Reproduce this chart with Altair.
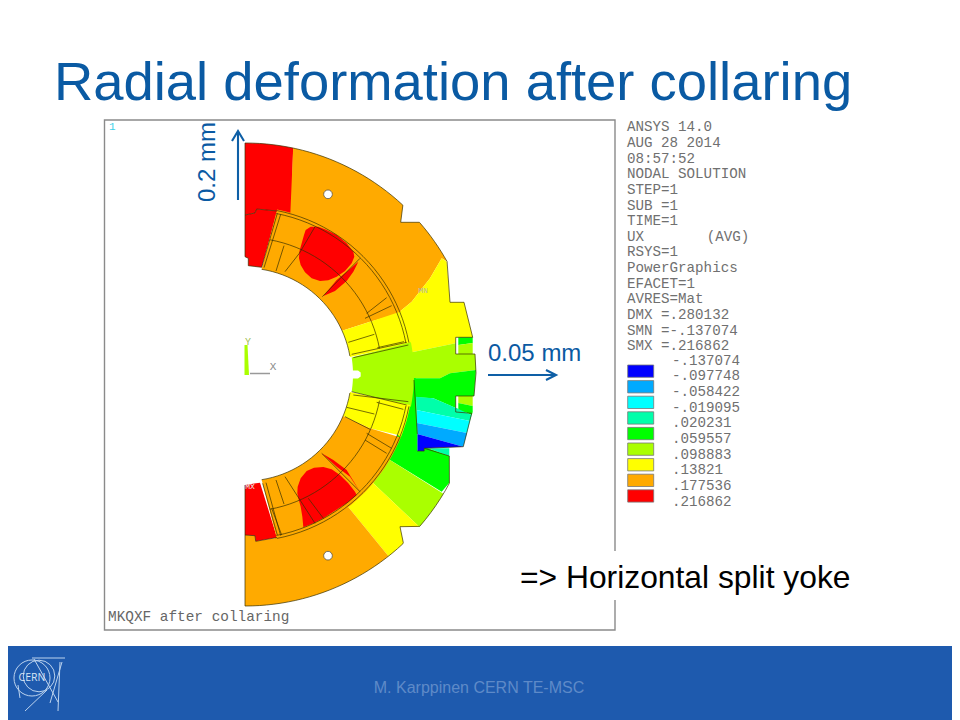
import math
import altair as alt

# ---------- geometry helpers (reference pixel coordinates) ----------
CX, CY = 245, 374.5

def arc(r, a1, a2, n=24):
    return [[CX + r * math.cos(math.radians(a1 + (a2 - a1) * i / n)),
             CY - r * math.sin(math.radians(a1 + (a2 - a1) * i / n))] for i in range(n + 1)]

def zt(*pts):  # crop of the upper half
    return [[190 + x / 3, 115 + y / 3] for x, y in pts]

def zb(*pts):  # crop of the lower half
    return [[190 + x / 3, 370 + y / 3] for x, y in pts]

BLUE, LBLUE, CYAN, AQUA, GREEN, LIME, YELLOW, ORANGE, RED = (
    "#0000FF", "#00AAFF", "#00FFFF", "#00FFAA", "#00FF00", "#AAFF00", "#FFFF00", "#FFAA00", "#FF0000")

# ---------- contour regions ----------
regions = [
    # yoke, upper
    (RED, arc(231.5, 90, 78, 6) + [[291.5, 214], [276, 211], [256.7, 209], [255, 213], [245, 215]]),
    (ORANGE, arc(231.5, 78, 47) + [[400.7, 222.3], [419.3, 222.3]] + arc(231.5, 41, 29.2, 8)
     + [[441.7, 258.3], [430, 278.3], [411.7, 301.7], [398, 313]] + arc(164, 22, 74)),
    (YELLOW, [[446.7, 261.7], [450, 302.3], [464, 302.3], [472.7, 337.3], [455.7, 337.3], [455.7, 343.3], [411.7, 352.3]]
     + arc(164, 7.6, 22, 10) + [[398, 313], [411.7, 301.7], [430, 278.3], [441.7, 258.3]]),
    (LIME, [[411.7, 352.3], [455.7, 343.3], [455.7, 354], [475, 354], [476, 370], [450, 373.3], [440, 378.3]]
     + arc(164, -1.3, 7.6, 6)),
    (GREEN, [[405, 378.3], [440, 378.3], [450, 373.3], [476, 370], [474, 396], [455.7, 396], [455.7, 408],
             [433.3, 398.3], [405, 396.7]]),
    # key pieces in the yoke notches
    (GREEN, [[458.3, 337.3], [472.7, 337.3], [472.7, 343], [458.3, 345]]),
    (LIME, [[458.3, 345], [472.7, 343], [472.7, 354], [458.3, 354]]),
    (LIME, [[458.3, 396], [472.7, 396], [472.7, 406], [458.3, 403]]),
    (GREEN, [[458.3, 403], [472.7, 406], [472.7, 412], [458.3, 412]]),
    # yoke pad bands
    (GREEN, [[455.7, 412], [472.7, 412], [471.7, 415], [455.7, 408]]),
    (AQUA, [[416, 396.7], [433.3, 398.3], [456.7, 408.3], [471.7, 415], [470, 421], [416.5, 410]]),
    (CYAN, [[416.5, 410], [470, 421], [467, 433], [417, 423]]),
    (LBLUE, [[417, 423], [467, 433], [463.3, 446.7], [417.3, 434]]),
    (BLUE, [[417.3, 434], [463.3, 446.7], [424.3, 448.3], [424.3, 451], [417.3, 451]]),
    (AQUA, [[428, 448.3], [449.3, 448.3], [449.3, 456]]),
    # yoke, lower
    (GREEN, arc(164, -1.3, -30.5, 14) + [[390, 460], [441.7, 491.7], [449.3, 482.7], [449.3, 456], [428, 448.3], [424.3, 448.3],
             [424.3, 451], [417.3, 451], [417.3, 434], [416, 396.7], [415.7, 378]]),
    (LIME, arc(164, -30.5, -40.4, 5) + [[373.3, 483.3], [419.3, 526.7]] + arc(231.5, -41, -31, 5) + [[390, 460]]),
    (YELLOW, arc(164, -40.4, -52, 6) + [[348, 506.7]] + arc(231.5, -51.7, -47, 3)
     + [[403.3, 542.7], [400, 526.7], [419.3, 526.7], [373.3, 483.3]]),
    (ORANGE, arc(231.5, -51.7, -90) + [[245, 535], [255, 535.7], [255.7, 541.3], [275, 538.3]] + arc(164, -79.5, -52, 16) + [[348, 506.7]]),
    # pads at the collar ends
    (RED, [[245, 215], [255, 213], [256.7, 209], [277.3, 211], [261.7, 267.3], [248.3, 265.7], [248.3, 258.3], [245, 256.7]]),
    (RED, [[245, 485], [260, 482.7], [277, 537.5], [255.7, 541.3], [255, 535.7], [245, 535]]),
    # collar
    (ORANGE, arc(106.5, 81, 24.3) + [[370, 321.7], [398, 314]] + arc(168, 22, 79)),
    (YELLOW, arc(106.5, 24.3, 9.5, 8) + arc(168, 10.5, 22, 8) + [[370, 321.7]]),
    (LIME, arc(108, 9, -9, 12) + arc(169, -11, 11, 12)),
    (YELLOW, arc(106.5, -9.5, -23, 8) + [[370, 428.3], [398, 435]] + arc(168, -22, -10.5, 8)),
    (ORANGE, arc(106.5, -23, -81) + arc(168, -79, -22) + [[370, 428.3]]),
    # red hot spots
    (RED, zt((347, 345), (362, 335), (385, 335), (410, 345), (440, 360), (470, 385), (490, 410), (493, 425), (485, 445),
             (465, 468), (440, 485), (415, 496), (390, 498), (365, 490), (345, 472), (332, 450), (327, 430), (328, 410),
             (335, 385), (342, 360))),
    (RED, zt((400, 543), (435, 528), (470, 498), (490, 470), (505, 440), (470, 470), (440, 495))),
    (RED, zb((322, 370), (323, 350), (332, 325), (350, 303), (372, 293), (400, 291), (425, 298), (450, 315), (475, 340),
             (495, 365), (500, 375), (470, 400), (430, 425), (400, 445), (370, 460), (340, 472), (337, 440), (332, 410),
             (325, 385))),
    (RED, zb((395, 250), (430, 270), (470, 300), (510, 365), (480, 320), (440, 290))),
    # bore key notch
    ("#FFFFFF", [[351, 370.5], [358, 370.5], [360.7, 372.5], [360.7, 376.5], [358, 378.5], [351, 378.5]]),
    # triad
    (LIME, [[244.5, 345], [247.5, 345], [249, 375], [244.5, 375]]),
]

# ---------- line work ----------
outline = (arc(231.5, 90, 47) + [[400.7, 222.3], [419.3, 222.3]] + arc(231.5, 41, 29.2, 8)
           + [[450, 302.3], [464, 302.3], [472.7, 337.3], [455.7, 337.3], [455.7, 354], [475, 354], [476, 373],
              [474, 396], [455.7, 396], [455.7, 412], [471.7, 413.3], [463.3, 446.7], [424.3, 448.3], [424.3, 451],
              [417.3, 451]])
outline2 = ([[424.3, 448.3], [449.3, 456]] + arc(231.5, -28, -41, 6)
            + [[400, 526.7], [403.3, 542.7]] + arc(231.5, -47, -90) + [[245, 535]])
lines = [
    outline, outline2,
    arc(137, 79.5, 11), arc(137, -11, -79.5),
    arc(164, 79, 11), arc(167, 79, 11), arc(164, -11, -79), arc(167, -11, -79),
    arc(106.5, 81, 10), arc(106.5, -10, -81),
    zt((262, 295), (215, 457)), zt((272, 298), (222, 458)),
    zt((282, 392), (258, 468)), zt((328, 415), (285, 470)), zt((375, 335), (328, 415)),
    zt((510, 430), (397, 545)), zt((605, 572), (525, 610)), zt((590, 548), (530, 595)),
    zt((553, 658), (475, 682)), zt((642, 680), (562, 698)), zt((650, 682), (485, 718)), zt((655, 690), (490, 728)),
    zb((650, 105), (485, 65)), zb((655, 95), (490, 75)), zb((560, 97), (640, 118)), zb((470, 112), (553, 132)),
    zb((465, 140), (540, 178)), zb((530, 190), (605, 235)), zb((525, 210), (590, 250)), zb((395, 250), (510, 365)),
    zb((258, 330), (282, 402)), zb((285, 320), (330, 390)), zb((330, 390), (375, 460)), zb((355, 385), (400, 445)),
    zb((218, 340), (262, 495)), zb((228, 338), (272, 497)), zb((245, 415), (275, 495)),
    [[245, 215], [255, 213], [256.7, 209], [277, 211]],
    [[245, 535], [255, 535.7], [255.7, 541.3], [277, 537.5]],
    [[245, 143], [245, 256.7], [248.3, 258.3], [248.3, 265.7], [261.7, 267.3]],
    [[245, 485], [245, 535]],
    [[414, 380], [417.3, 434]],
]
triad_lines = [[[250, 373.5], [270, 373.5]]]
arrows = [
    [[238, 200], [238, 132]], [[232, 141], [238, 131], [244, 141]],
    [[488, 375], [555, 375]], [[546, 370], [556, 375], [546, 380]],
]
logo_lines = [
    [[32, 658], [65, 658]], [[62, 662], [50, 703]], [[60, 662], [58, 711]], [[25, 711], [47, 690]],
    [[18, 685], [20, 698]], [[34, 659], [58, 702]],
]

def feature(pts, kind="LineString", color="#000"):
    coords = [pts + [pts[0]]] if kind == "Polygon" else pts
    return {"type": "Feature", "geometry": {"type": kind, "coordinates": coords}, "properties": {"c": color}}

# ---------- legend and text ----------
ansys_lines = ["ANSYS 14.0", "AUG 28 2014", "08:57:52", "NODAL SOLUTION", "STEP=1", "SUB =1", "TIME=1",
               "UX", "RSYS=1", "PowerGraphics", "EFACET=1", "AVRES=Mat", "DMX =.280132",
               "SMN =-.137074", "SMX =.216862"]
ansys_y = [127.3, 143, 158.6, 174.2, 189.9, 205.5, 221.2, 236.8, 252.4, 268.1, 283.7, 299.4, 315, 330.6, 346.3]
legend_values = ["-.137074", "-.097748", "-.058422", "-.019095", ".020231", ".059557", ".098883", ".13821",
                 ".177536", ".216862"]
legend_value_y = [360.7, 376.3, 392, 407.6, 423.3, 438.9, 454.5, 470.2, 485.8, 501.5]
legend_colors = [BLUE, LBLUE, CYAN, AQUA, GREEN, LIME, YELLOW, ORANGE, RED]
legend_top = [365, 380.6, 396.2, 411.8, 427.4, 443, 458.6, 474.2, 489.8]
legend_bottom = [377.3, 392.9, 408.5, 424.1, 439.7, 455.3, 470.9, 486.5, 502.1]

X = alt.Scale(domain=[8, 952], range=[0, 944])
Y = alt.Scale(domain=[8, 720], range=[0, 712])

def box(x1, x2, y1, y2, **kw):
    return alt.Chart(alt.Data(values=[{"a": x1, "b": x2, "c": y1, "d": y2}])).mark_rect(**kw).encode(
        x=alt.X("a:Q", scale=X, axis=None), x2="b:Q", y=alt.Y("c:Q", scale=Y, axis=None), y2="d:Q")

def text(rows, **kw):
    return alt.Chart(alt.Data(values=[{"x": x, "y": y, "t": t} for x, y, t in rows])).mark_text(**kw).encode(
        x=alt.X("x:Q", scale=X, axis=None), y=alt.Y("y:Q", scale=Y, axis=None), text="t:N")

def shape_lines(paths, **kw):
    return alt.Chart(alt.Data(values=[feature(p) for p in paths])).mark_geoshape(filled=False, **kw).project(
        type="identity", scale=1, translate=[-8, -8])

poly = alt.Chart(alt.Data(values=[feature(p, "Polygon", c) for c, p in regions])).mark_geoshape(
    stroke=None, strokeWidth=0).encode(fill=alt.Fill("properties.c:N", scale=None)).project(
    type="identity", scale=1, translate=[-8, -8])

swatches = alt.Chart(alt.Data(values=[{"c": c, "t": t, "b": b, "x": 627.7, "x2": 653.7}
                                      for c, t, b in zip(legend_colors, legend_top, legend_bottom)])).mark_rect(
    stroke="#777777", strokeWidth=0.8).encode(
    x=alt.X("x:Q", scale=X, axis=None), x2="x2:Q", y=alt.Y("t:Q", scale=Y, axis=None), y2="b:Q",
    fill=alt.Fill("c:N", scale=None))

holes = alt.Chart(alt.Data(values=[{"x": 328, "y": 194.3}, {"x": 328, "y": 555.7}])).mark_point(
    filled=True, fill="#FFFFFF", stroke="#444444", strokeWidth=0.7, size=75, opacity=1, shape="circle").encode(
    x=alt.X("x:Q", scale=X, axis=None), y=alt.Y("y:Q", scale=Y, axis=None))

logo_rings = alt.Chart(alt.Data(values=[{"x": 32, "y": 678, "s": 1300}, {"x": 39, "y": 676, "s": 1000}])).mark_point(
    filled=False, stroke="#BCD3EE", strokeWidth=1, opacity=1, shape="circle").encode(
    x=alt.X("x:Q", scale=X, axis=None), y=alt.Y("y:Q", scale=Y, axis=None),
    size=alt.Size("s:Q", scale=None, legend=None))

MONO = "Liberation Mono"
SANS = "Liberation Sans"
TITLE_BLUE = "#0A5AA3"

chart = alt.layer(
    box(8, 952, 646, 720, color="#1E5AAE"),
    box(104.5, 615, 120, 630, fill="#FFFFFF", stroke="#8A8A8A", strokeWidth=1.4),
    box(513, 640, 551, 600, fill="#FFFFFF", strokeWidth=0),
    poly,
    shape_lines(lines, stroke="#3A3000", strokeWidth=0.7),
    shape_lines(triad_lines, stroke="#999999", strokeWidth=1.5),
    holes,
    swatches,
    shape_lines(arrows, stroke="#0E5FA6", strokeWidth=2.1),
    shape_lines(logo_lines, stroke="#BCD3EE", strokeWidth=1),
    logo_rings,
    text([(54, 100, "Radial deformation after collaring")], font=SANS, fontSize=54.4, color=TITLE_BLUE, align="left", baseline="alphabetic"),
    text([(520, 588, "=> Horizontal split yoke")], font=SANS, fontSize=31.8, color="#000000", align="left", baseline="alphabetic"),
    text([(488, 361, "0.05 mm")], font=SANS, fontSize=24, color=TITLE_BLUE, align="left", baseline="alphabetic"),
    text([(215, 162, "0.2 mm")], font=SANS, fontSize=24, color=TITLE_BLUE, angle=270, align="center", baseline="alphabetic"),
    text([(479, 688, "M. Karppinen CERN TE-MSC")], font=SANS, fontSize=16, color="#5E8AC8", align="center", baseline="middle"),
    text([(32, 678, "CERN")], font="Open Sans", fontSize=10.5, color="#D5E3F5", align="center", baseline="middle"),
    text(list(zip([627] * len(ansys_lines), ansys_y, ansys_lines)), font=MONO, fontSize=14.2, color="#707070", align="left", baseline="middle"),
    text([(706.7, 236.8, "(AVG)")], font=MONO, fontSize=14.2, color="#707070", align="left", baseline="middle"),
    text(list(zip([672] * len(legend_values), legend_value_y, legend_values)), font=MONO, fontSize=14.2, color="#707070", align="left", baseline="middle"),
    text([(108, 617, "MKQXF after collaring")], font=MONO, fontSize=14.4, color="#666666", align="left", baseline="middle"),
    text([(109, 127, "1")], font=MONO, fontSize=11, color="#40D0E8", align="left", baseline="middle"),
    text([(248, 342, "Y")], font=MONO, fontSize=10, color="#A0C050", align="center", baseline="middle"),
    text([(273, 367, "X")], font=MONO, fontSize=11, color="#888888", align="center", baseline="middle"),
    text([(423, 291, "MN")], font=MONO, fontSize=8, color="#B8B8A0", align="center", baseline="middle"),
    text([(250, 487, "MX")], font=MONO, fontSize=8, color="#E8E8E8", align="center", baseline="middle"),
).properties(width=944, height=712, padding=0, autosize=alt.AutoSizeParams(type="none"), background="#FFFFFF"
).configure_view(stroke=None).resolve_scale(x="shared", y="shared")

chart.save("out.html", embed_options={"renderer": "svg", "actions": False})
